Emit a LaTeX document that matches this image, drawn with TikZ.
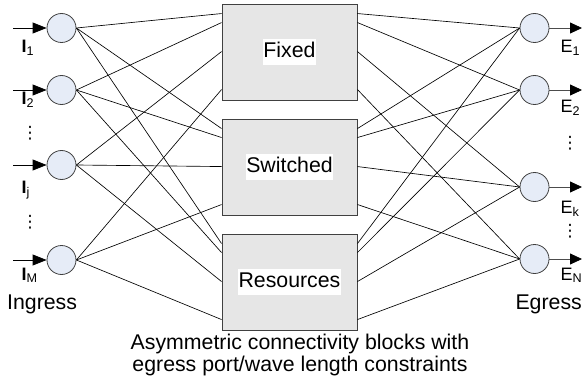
\documentclass[tikz,border=0pt]{standalone}
\usepackage{fontspec}
\setmainfont{Liberation Sans}
\newfontfamily\symfont{DejaVu Sans}
\usetikzlibrary{arrows.meta}
\definecolor{portfill}{RGB}{230,236,247}
\definecolor{blockfill}{RGB}{230,230,230}
\definecolor{edgegray}{RGB}{64,64,64}
\begin{document}
\begin{tikzpicture}[x=1pt,y=-1pt,
  port/.style={circle, draw=edgegray, fill=portfill, minimum size=29pt, inner sep=0pt, line width=0.8pt},
  block/.style={rectangle, draw=edgegray, fill=blockfill, minimum width=135pt, minimum height=96pt, inner sep=0pt, line width=0.9pt},
  blocklabel/.style={fill=white, inner xsep=0.5pt, inner ysep=0.5pt, text height=18pt, text depth=7.5pt, font=\fontsize{21.3}{24}\selectfont},
  link/.style={draw=black, line width=0.65pt},
  inarrow/.style={draw=black, line width=0.8pt, -{Triangle[length=14pt,width=11pt]}},
  outarrow/.style={draw=black!70, line width=0.8pt, -{Triangle[length=12pt,width=11pt,color=black]}},
  portlabel/.style={inner sep=0pt, font=\fontsize{18}{20}\selectfont},
  caption/.style={inner sep=0pt, font=\fontsize{21.3}{24}\selectfont},
  dotsnode/.style={inner sep=0pt, font=\symfont\fontsize{17}{20}\selectfont}
]
\useasboundingbox (0,0) rectangle (583,385);

% ingress ports
\node[port] (i1) at (61.5,28) {};
\node[port] (i2) at (61.5,90) {};
\node[port] (ij) at (61.5,165) {};
\node[port] (im) at (61.5,260) {};

% egress ports
\node[port] (e1) at (534.5,28) {};
\node[port] (e2) at (534.5,90) {};
\node[port] (ek) at (534.5,187) {};
\node[port] (en) at (534.5,259) {};

% blocks
\node[block] (fixed) at (289.5,52) {};
\node[block] (switched) at (289.5,167) {};
\node[block] (resources) at (289.5,282) {};

% links ingress -> blocks -> egress
\foreach \b in {fixed,switched,resources}{
  \draw[link] (i1.east) -- ([yshift=-10pt]\b.north west);
  \draw[link] (i2.east) -- ([yshift=-19pt]\b.north west);
  \draw[link] (ij.east) -- ([yshift=-48pt]\b.north west);
  \draw[link] (im.east) -- ([yshift=-86pt]\b.north west);
  \draw[link] ([yshift=-10pt]\b.north east) -- (e1.west);
  \draw[link] ([yshift=-19pt]\b.north east) -- (e2.west);
  \draw[link] ([yshift=-48pt]\b.north east) -- (ek.west);
  \draw[link] ([yshift=-86pt]\b.north east) -- (en.west);
}

% block labels
\node[blocklabel] (fixedlabel) at (fixed) {Fixed};
\node[blocklabel] (switchedlabel) at (switched) {Switched};
\node[blocklabel] (resourceslabel) at (resources) {Resources};

% ingress arrows
\coordinate (i1s) at (13,28);
\coordinate (i2s) at (13,90);
\coordinate (ijs) at (13,165);
\coordinate (ims) at (13,260);
\draw[inarrow] (i1s) -- (i1.west);
\draw[inarrow] (i2s) -- (i2.west);
\draw[inarrow] (ijs) -- (ij.west);
\draw[inarrow] (ims) -- (im.west);

% egress arrows
\coordinate (e1t) at (582,28);
\coordinate (e2t) at (582,90);
\coordinate (ekt) at (582,187);
\coordinate (ent) at (582,259);
\draw[outarrow] (e1.east) -- (e1t);
\draw[outarrow] (e2.east) -- (e2t);
\draw[outarrow] (ek.east) -- (ekt);
\draw[outarrow] (en.east) -- (ent);

% port labels
\node[portlabel, anchor=base west] (li1) at (21.5,53) {\textbf{I}\textsubscript{1}};
\node[portlabel, anchor=base west] (li2) at (21.5,105) {\textbf{I}\textsubscript{2}};
\node[portlabel, anchor=base west] (lij) at (21.5,193) {\textbf{I}\textsubscript{j}};
\node[portlabel, anchor=base west] (lim) at (21.5,280) {\textbf{I}\textsubscript{M}};
\node[portlabel, anchor=base west] (le1) at (560.5,53) {E\textsubscript{1}};
\node[portlabel, anchor=base west] (le2) at (560.5,113) {E\textsubscript{2}};
\node[portlabel, anchor=base west] (lek) at (560.5,213) {E\textsubscript{k}};
\node[portlabel, anchor=base west] (len) at (560.5,280) {E\textsubscript{N}};

% vertical dots
\node[dotsnode] (dl1) at (30,133.5) {⋮};
\node[dotsnode] (dl2) at (30,222) {⋮};
\node[dotsnode] (dr1) at (570,143) {⋮};
\node[dotsnode] (dr2) at (570,231) {⋮};

% captions
\node[caption, anchor=base west] (ingress) at (7,309) {Ingress};
\node[caption, anchor=base east] (egress) at (582,309) {Egress};
\node[caption, anchor=base] (cap1) at (300,349) {Asymmetric connectivity blocks with};
\node[caption, anchor=base] (cap2) at (300,371) {egress port/wave length constraints};
\end{tikzpicture}
\end{document}
